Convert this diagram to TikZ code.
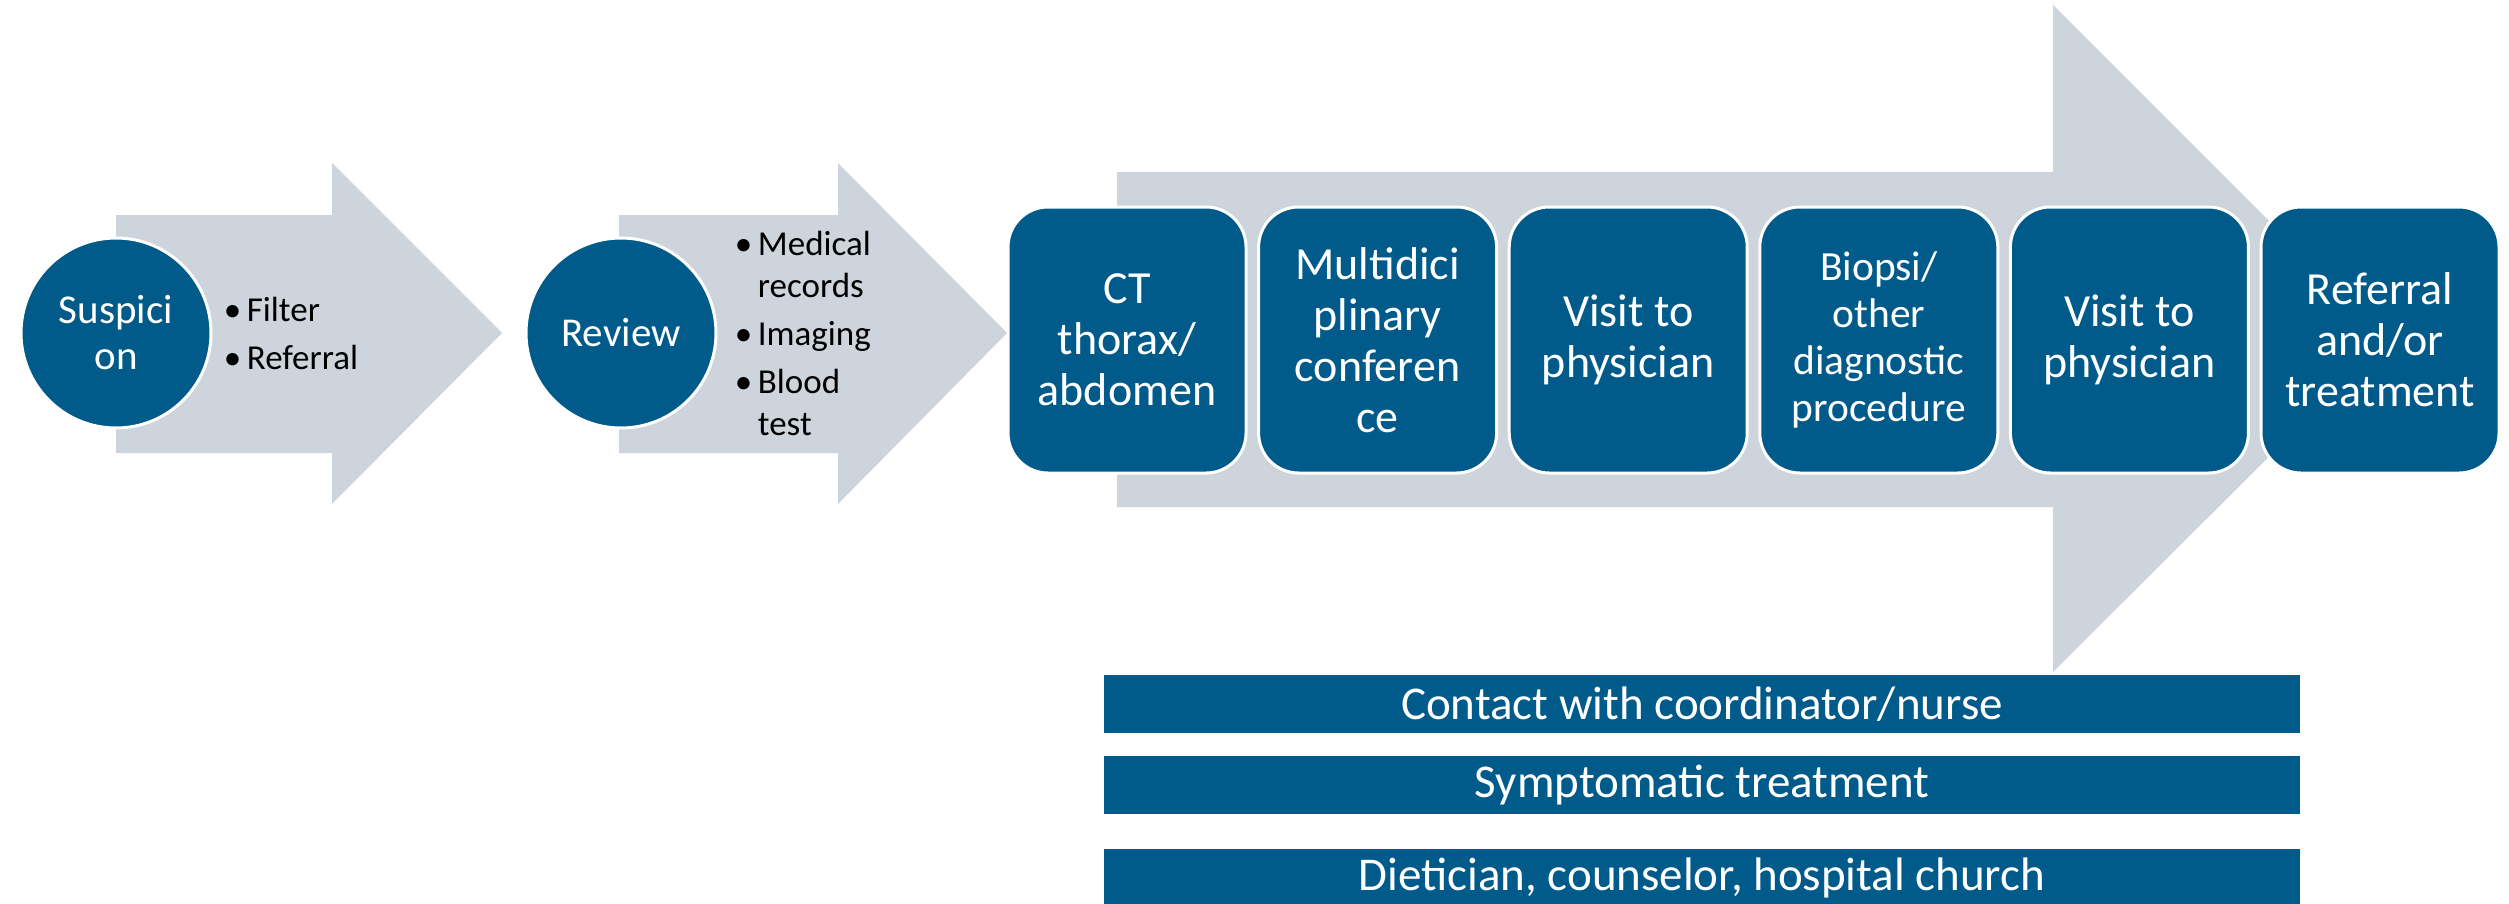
\documentclass[tikz,border=0pt]{standalone}
\usepackage{fontspec}
\setmainfont{Carlito}
\usetikzlibrary{positioning}

\definecolor{stageblue}{RGB}{0,91,138}
\definecolor{flowgray}{RGB}{206,212,220}

\newcommand{\bul}{\makebox[11.5pt][l]{\textbullet}}
\newcommand{\bulcont}{\hspace*{11.5pt}}

\begin{document}
\begin{tikzpicture}[
                    x=0.5pt, y=-0.5pt,
                    hub/.style={circle, draw=white, line width=1.5pt, fill=stageblue, text=white, minimum size=95pt, align=center, inner sep=0pt, font=\fontsize{20.5}{23}\selectfont},
                    bullets/.style={align=left, inner sep=0pt, font=\fontsize{17.5}{21}\selectfont},
                    stage/.style={rectangle, rounded corners=20pt, draw=white, line width=1.5pt, fill=stageblue, text=white, minimum width=119pt, minimum height=133pt, align=center, inner sep=2pt, font=\fontsize{23}{25.5}\selectfont},
                    bar/.style={rectangle, fill=stageblue, text=white, minimum width=598pt, minimum height=29pt, inner sep=0pt, font=\fontsize{23.5}{26}\selectfont},
                    flow/.style={fill=flowgray}
                ]
                    \useasboundingbox (0,0) rectangle (2509,904);

                    % Grey arrows behind
                    \fill [flow] (116,215) -- (332,215) -- (332,163) -- (502,333) -- (332,504) -- (332,453) -- (116,453) -- cycle;
                    \fill [flow] (619,215) -- (838,215) -- (838,163) -- (1007,333) -- (838,504) -- (838,453) -- (619,453) -- cycle;
                    \fill [flow] (1117,172) -- (2053,172) -- (2053,5) -- (2387,339) -- (2053,672) -- (2053,507) -- (1117,507) -- cycle;

                    % First two steps
                    \node [hub] (suspicion) at (116,333) {Suspici\\on};
                    \node [bullets, right=5.5pt of suspicion] (suspicionlist) {\bul Filter\\[3pt]\bul Referral};

                    \node [hub] (review) at (621,333) {Review};
                    \node [bullets, right=8.5pt of review] (reviewlist) {\bul Medical\\\bulcont records\\[3pt]\bul Imaging\\[3pt]\bul Blood\\\bulcont test};

                    % Steps in the big arrow
                    \node [stage] (ct) at (1127,340) {CT\\thorax/\\abdomen};
                    \node [stage, right=4.8pt of ct] (conference) {Multidici\\plinary\\conferen\\ce};
                    \node [stage, right=4.8pt of conference] (visit) {Visit to\\physician};
                    \node [stage, right=4.8pt of visit, font=\fontsize{20.75}{23.5}\selectfont] (biopsy) {Biopsi/\\other\\diagnostic\\procedure};
                    \node [stage, right=4.8pt of biopsy] (revisit) {Visit to\\physician};
                    \node [stage, right=4.8pt of revisit] (treatment) {Referral\\and/or\\treatment};

                    % Support bars
                    \node [bar] (contact) at (1702,704) {Contact with coordinator/nurse};
                    \node [bar, below=11pt of contact] (symptom) {Symptomatic treatment};
                    \node [bar, below=17pt of symptom] (support) {Dietician, counselor, hospital church};
                \end{tikzpicture}
\end{document}
